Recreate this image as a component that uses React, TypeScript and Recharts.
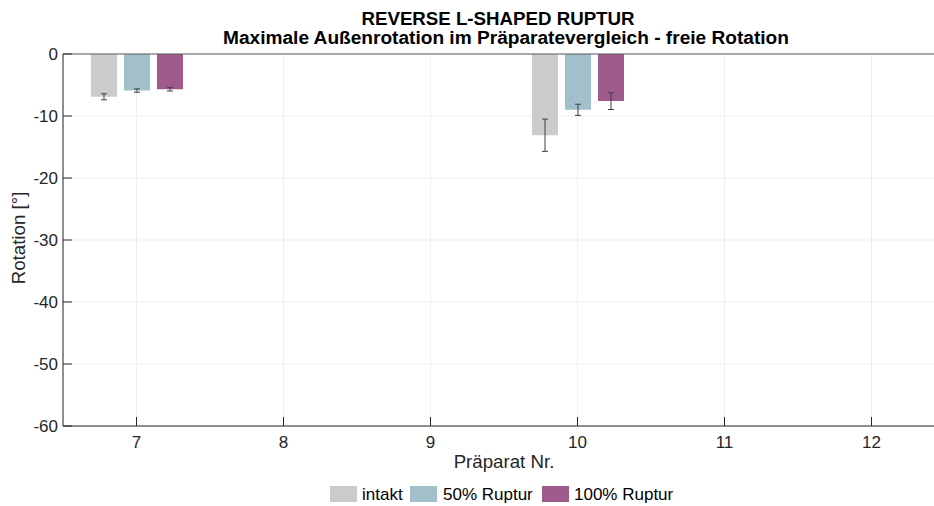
import React from "react";
import { BarChart, Bar, XAxis, YAxis, CartesianGrid, ErrorBar, ReferenceLine } from "recharts";

const categories = ["7", "8", "9", "10", "11", "12"];
const intakt = [-6.9, 0, 0, -13.1, 0, 0];
const intaktErr = [0.48, 0, 0, 2.6, 0, 0];
const ruptur50 = [-5.9, 0, 0, -9.0, 0, 0];
const ruptur50Err = [0.27, 0, 0, 0.9, 0, 0];
const ruptur100 = [-5.7, 0, 0, -7.6, 0, 0];
const ruptur100Err = [0.27, 0, 0, 1.35, 0, 0];
const yTicks = [-60, -50, -40, -30, -20, -10, 0];

const seriesNames = ["intakt", "50% Ruptur", "100% Ruptur"];
const seriesColors = ["#cbcbcb", "#a2c0cb", "#9e5a8b"];

const titleLine1 = "REVERSE L-SHAPED RUPTUR";
const titleLine2 = "Maximale Außenrotation im Präparatevergleich - freie Rotation";
const xLabel = "Präparat Nr.";
const yLabel = "Rotation [°]";

const data = categories.map((c, i) => ({
  name: c,
  s0: intakt[i],
  e0: intaktErr[i],
  s1: ruptur50[i],
  e1: ruptur50Err[i],
  s2: ruptur100[i],
  e2: ruptur100Err[i],
}));

const FONT = "'Liberation Sans', Arial, Helvetica, sans-serif";
const AXIS_COLOR = "#262626";
const PLOT_LEFT = 63;
const PLOT_BOTTOM = 426;

const XTick = (props: any) => {
  const { x, payload } = props;
  return (
    <g>
      <line x1={x} x2={x} y1={PLOT_BOTTOM} y2={PLOT_BOTTOM - 9} stroke={AXIS_COLOR} strokeWidth={1} />
      <text x={x} y={448} textAnchor="middle" fontSize={17} fontFamily={FONT} fill={AXIS_COLOR}>
        {payload.value}
      </text>
    </g>
  );
};

const YTick = (props: any) => {
  const { y, payload } = props;
  return (
    <g>
      <line x1={PLOT_LEFT} x2={PLOT_LEFT + 9} y1={y} y2={y} stroke={AXIS_COLOR} strokeWidth={1} />
      <text x={58} y={y + 6} textAnchor="end" fontSize={17} fontFamily={FONT} fill={AXIS_COLOR}>
        {payload.value}
      </text>
    </g>
  );
};

const legendSwatchX = [330, 410, 542];
const legendTextX = [362, 443, 574];

export default function App() {
  return (
    <div style={{ position: "fixed", left: 0, top: 0, width: 934, height: 506, overflow: "hidden", background: "#fff" }}>
      <BarChart
        width={934}
        height={506}
        data={data}
        margin={{ top: 54, right: -11, bottom: 0, left: 0 }}
        barSize={26}
        barGap={7}
      >
        <CartesianGrid stroke="#efefef" strokeWidth={1} />
        <XAxis
          dataKey="name"
          height={80}
          axisLine={{ stroke: AXIS_COLOR, strokeWidth: 1 }}
          tickLine={false}
          tick={<XTick />}
          interval={0}
        />
        <YAxis
          width={PLOT_LEFT}
          domain={[-60, 0]}
          ticks={yTicks}
          type="number"
          allowDataOverflow
          axisLine={{ stroke: AXIS_COLOR, strokeWidth: 1 }}
          tickLine={false}
          tick={<YTick />}
          interval={0}
        />
        {[0, 1, 2].map((i) => (
          <Bar key={i} dataKey={`s${i}`} name={seriesNames[i]} fill={seriesColors[i]} isAnimationActive={false}>
            <ErrorBar dataKey={`e${i}`} width={3} stroke="#404040" strokeWidth={1} direction="y" isAnimationActive={false} />
          </Bar>
        ))}
        <ReferenceLine y={0} stroke="#5a5a5a" strokeWidth={1} />
      </BarChart>
      <svg width={934} height={506} style={{ position: "absolute", left: 0, top: 0, pointerEvents: "none" }}>
        <text x={498} y={24.5} textAnchor="middle" fontSize={18.7} fontWeight="bold" fontFamily={FONT} fill="#000">
          {titleLine1}
        </text>
        <text x={506} y={44} textAnchor="middle" fontSize={19.1} fontWeight="bold" fontFamily={FONT} fill="#000">
          {titleLine2}
        </text>
        <text x={504} y={467.5} textAnchor="middle" fontSize={18.7} fontFamily={FONT} fill={AXIS_COLOR}>
          {xLabel}
        </text>
        <text
          x={25}
          y={238}
          transform="rotate(-90 25 238)"
          textAnchor="middle"
          fontSize={18.7}
          fontFamily={FONT}
          fill={AXIS_COLOR}
        >
          {yLabel}
        </text>
        {seriesNames.map((n, i) => (
          <g key={n}>
            <rect x={legendSwatchX[i]} y={486} width={27} height={16} fill={seriesColors[i]} />
            <text x={legendTextX[i]} y={500} fontSize={17} fontFamily={FONT} fill="#000">
              {n}
            </text>
          </g>
        ))}
      </svg>
    </div>
  );
}
